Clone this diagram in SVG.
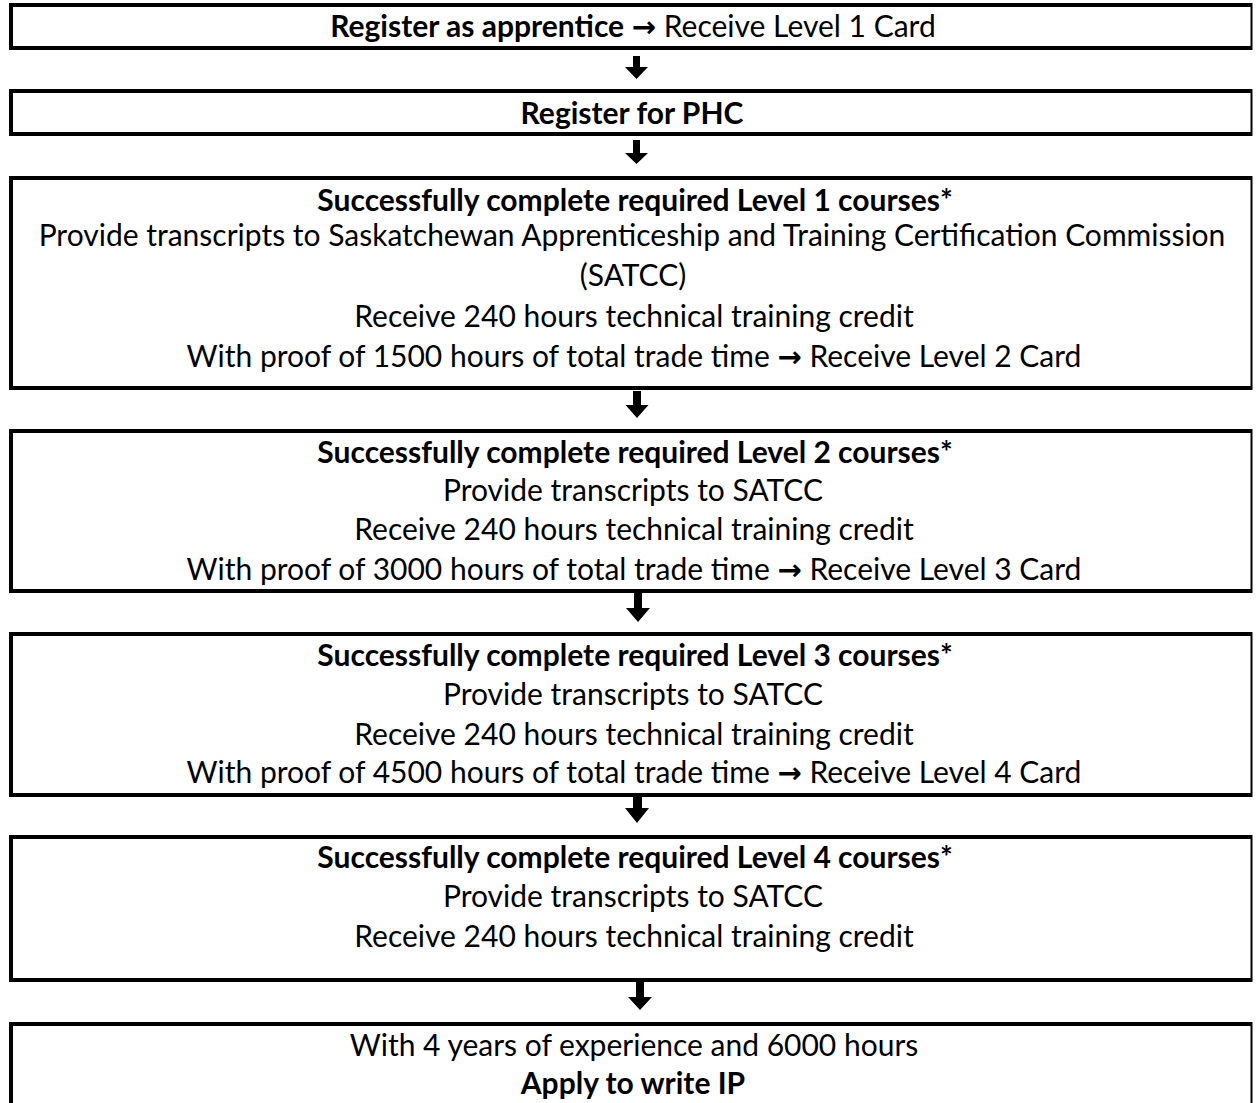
<svg xmlns="http://www.w3.org/2000/svg" width="1257" height="1103" viewBox="0 0 1257 1103">
<style>
.bx{fill:none;stroke:#000;stroke-width:4;stroke-linejoin:miter}
.rt{stroke:#000;stroke-width:2}
text{font-family:"Lato","Open Sans","Liberation Sans",sans-serif;font-size:30px;fill:#000;text-anchor:middle}
.b{font-weight:bold}
.ar{font-family:"DejaVu Sans",sans-serif;font-weight:bold;font-size:29px}
.arrow{fill:#000}
</style>
<rect width="1257" height="1103" fill="#fff"/>
<g id="node1">
<path class="bx" d="M1252,5 H11 V48 H1252"/><line class="rt" x1="1251.5" y1="3" x2="1251.5" y2="50"/>
<text x="633" y="37"><tspan class="b">Register as apprentice</tspan> <tspan class="ar">→</tspan> Receive Level 1 Card</text>
</g>
<g id="node2">
<path class="bx" d="M1252,91 H11 V134 H1252"/><line class="rt" x1="1251.5" y1="89" x2="1251.5" y2="136"/>
<text x="632" y="124" class="b">Register for PHC</text>
</g>
<g id="node3">
<path class="bx" d="M1252,178 H11 V388 H1252"/><line class="rt" x1="1251.5" y1="176" x2="1251.5" y2="390"/>
<text x="635" y="211" class="b">Successfully complete required Level 1 courses*</text>
<text x="632" y="246">Provide transcripts to Saskatchewan Apprenticeship and Training Certification Commission</text>
<text x="633" y="286">(SATCC)</text>
<text x="634" y="327">Receive 240 hours technical training credit</text>
<text x="634" y="367">With proof of 1500 hours of total trade time <tspan class="ar">→</tspan> Receive Level 2 Card</text>
</g>
<g id="node4">
<path class="bx" d="M1252,431 H11 V591 H1252"/><line class="rt" x1="1251.5" y1="429" x2="1251.5" y2="593"/>
<text x="635" y="463" class="b">Successfully complete required Level 2 courses*</text>
<text x="633" y="501">Provide transcripts to SATCC</text>
<text x="634" y="540">Receive 240 hours technical training credit</text>
<text x="634" y="580">With proof of 3000 hours of total trade time <tspan class="ar">→</tspan> Receive Level 3 Card</text>
</g>
<g id="node5">
<path class="bx" d="M1252,634 H11 V795 H1252"/><line class="rt" x1="1251.5" y1="632" x2="1251.5" y2="797"/>
<text x="635" y="666" class="b">Successfully complete required Level 3 courses*</text>
<text x="633" y="705">Provide transcripts to SATCC</text>
<text x="634" y="745">Receive 240 hours technical training credit</text>
<text x="634" y="783">With proof of 4500 hours of total trade time <tspan class="ar">→</tspan> Receive Level 4 Card</text>
</g>
<g id="node6">
<path class="bx" d="M1252,837 H11 V980 H1252"/><line class="rt" x1="1251.5" y1="835" x2="1251.5" y2="982"/>
<text x="635" y="868" class="b">Successfully complete required Level 4 courses*</text>
<text x="633" y="907">Provide transcripts to SATCC</text>
<text x="634" y="947">Receive 240 hours technical training credit</text>
</g>
<g id="node7">
<path class="bx" d="M1252,1024 H11 V1110"/><line class="rt" x1="1251.5" y1="1022" x2="1251.5" y2="1103"/>
<text x="634" y="1056">With 4 years of experience and 6000 hours</text>
<text x="633" y="1094" class="b">Apply to write IP</text>
</g>
<g id="connectors">
<path class="arrow" d="M633,56 H640 V67 H648 L636.5,79 L625,67 H633 Z"/>
<path class="arrow" d="M633,140 H640 V153 H648 L636.5,164 L625,153 H633 Z"/>
<path class="arrow" d="M633,391 H641 V405 H648.5 L637,418 L625.5,405 H633 Z"/>
<path class="arrow" d="M634,593 H642 V608 H650 L638,622 L626,608 H634 Z"/>
<path class="arrow" d="M633,793 H642 V808 H649 L637,823 L625,808 H633 Z"/>
<path class="arrow" d="M636,982 H644 V997 H652 L640,1010 L628,997 H636 Z"/>
</g>
</svg>
